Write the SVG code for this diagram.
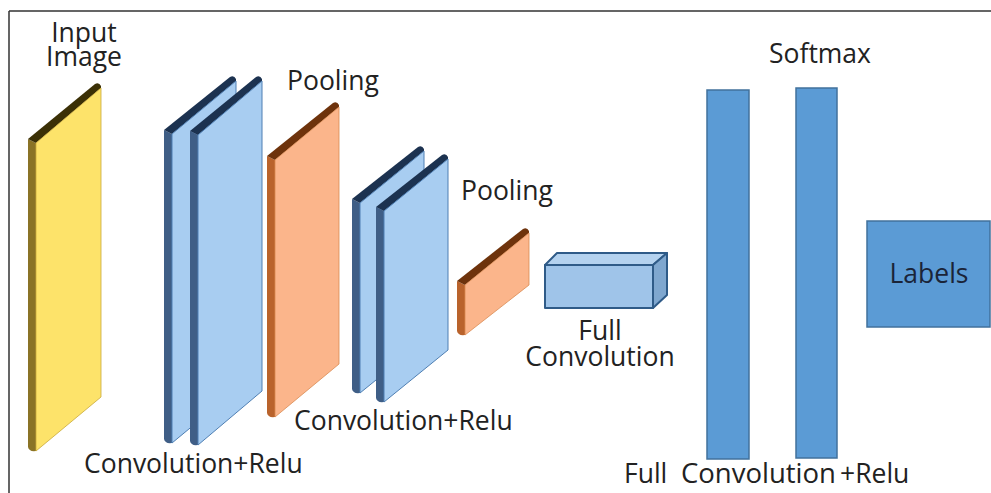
<svg xmlns="http://www.w3.org/2000/svg" width="991" height="493" viewBox="0 0 991 493">
  <style>
    text { font-family: "Open Sans", "Liberation Sans", sans-serif; font-size: 26.5px; fill: #222; }
    .frame { stroke: #333; stroke-width: 1.5; fill: none; }
    .y-face { fill: #fde36a; stroke: #c9a93a; stroke-width: 0.8; }
    .y-side { fill: #8a7326; }
    .y-top { fill: #3b3006; }
    .b-face { fill: #a8cdf1; stroke: #4f7fb3; stroke-width: 1; }
    .b-side { fill: #3f5e86; }
    .b-top { fill: #1c3250; }
    .o-face { fill: #fbb58b; stroke: #d98a52; stroke-width: 0.8; }
    .o-side { fill: #b9632c; }
    .o-top { fill: #6e330c; }
    .bar { fill: #5b9bd5; stroke: #41719c; stroke-width: 1.5; }
    .box { stroke: #2f5b88; stroke-width: 2; stroke-linejoin: round; }
  </style>

  <!-- outer frame: top and left rules -->
  <path class="frame" d="M9 11 H991 M9 11 V493"/>

  <!-- input plate -->
  <g id="input-image">
    <path class="y-side" d="M36 143 L28 139 L28 447 Q29 452 36 451 Z"/>
    <path class="y-top" d="M36 143 L101 88 L101 86 Q99 82 95 84 L28 139 Z"/>
    <path class="y-face" d="M36 143 L101 88 L101 397 L36 451 Z"/>
    <text x="84" y="42" text-anchor="middle">Input</text>
    <text x="84" y="66" text-anchor="middle">Image</text>
  </g>

  <!-- first convolution pair -->
  <g id="conv1">
    <path class="b-side" d="M172 134 L164 130 L164 439 Q165 444 172 443 Z"/>
    <path class="b-top" d="M172 134 L236 81 L236 79 Q234 75 230 77 L164 130 Z"/>
    <path class="b-face" d="M172 134 L236 81 L236 390 L172 443 Z"/>
    <path class="b-side" d="M198 135 L190 131 L190 441 Q191 446 198 445 Z"/>
    <path class="b-top" d="M198 135 L262 81 L262 79 Q260 75 256 77 L190 131 Z"/>
    <path class="b-face" d="M198 135 L262 81 L262 391 L198 445 Z"/>
    <text x="84" y="473">Convolution+Relu</text>
  </g>

  <!-- first pooling plate -->
  <g id="pool1">
    <path class="o-side" d="M275 160 L267 156 L267 413 Q268 418 275 417 Z"/>
    <path class="o-top" d="M275 160 L339 107 L339 105 Q337 101 333 103 L267 156 Z"/>
    <path class="o-face" d="M275 160 L339 107 L339 364 L275 417 Z"/>
    <text x="287" y="90">Pooling</text>
  </g>

  <!-- second convolution pair -->
  <g id="conv2">
    <path class="b-side" d="M360 203 L352 199 L352 389 Q353 394 360 393 Z"/>
    <path class="b-top" d="M360 203 L424 151 L424 149 Q422 145 418 147 L352 199 Z"/>
    <path class="b-face" d="M360 203 L424 151 L424 341 L360 393 Z"/>
    <path class="b-side" d="M384 211 L376 207 L376 398 Q377 403 384 402 Z"/>
    <path class="b-top" d="M384 211 L448 159 L448 157 Q446 153 442 155 L376 207 Z"/>
    <path class="b-face" d="M384 211 L448 159 L448 350 L384 402 Z"/>
    <text x="294" y="430">Convolution+Relu</text>
  </g>

  <!-- second pooling plate -->
  <g id="pool2">
    <path class="o-side" d="M465 285 L457 281 L457 331 Q458 336 465 335 Z"/>
    <path class="o-top" d="M465 285 L529 233 L529 231 Q527 227 523 229 L457 281 Z"/>
    <path class="o-face" d="M465 285 L529 233 L529 285 L465 335 Z"/>
    <text x="461" y="200">Pooling</text>
  </g>

  <!-- full convolution block -->
  <g id="full-convolution">
    <path class="box" fill="#b4d2ef" d="M545 265 L557 253 L667 253 L653 265 Z"/>
    <path class="box" fill="#7fa7cf" d="M653 265 L667 253 L667 295 L653 308 Z"/>
    <path class="box" fill="#9fc4e9" d="M545 265 H653 V308 H545 Z"/>
    <text x="600" y="340" text-anchor="middle">Full</text>
    <text x="600" y="366" text-anchor="middle">Convolution</text>
  </g>

  <!-- fully connected + softmax bars -->
  <g id="fc1">
    <rect class="bar" x="707" y="90" width="42" height="369"/>
    <text x="624" y="483">Full</text>
    <text x="681" y="483" style="font-size:27.5px">Convolution</text>
  </g>
  <g id="softmax">
    <rect class="bar" x="796" y="88" width="41" height="370"/>
    <text x="769" y="63">Softmax</text>
    <text x="840" y="483">+Relu</text>
  </g>

  <!-- output -->
  <g id="labels">
    <rect class="bar" x="867" y="221" width="123" height="106"/>
    <text x="929" y="283" text-anchor="middle" style="fill:#1a2438">Labels</text>
  </g>

  <g id="connectors"/>
</svg>
